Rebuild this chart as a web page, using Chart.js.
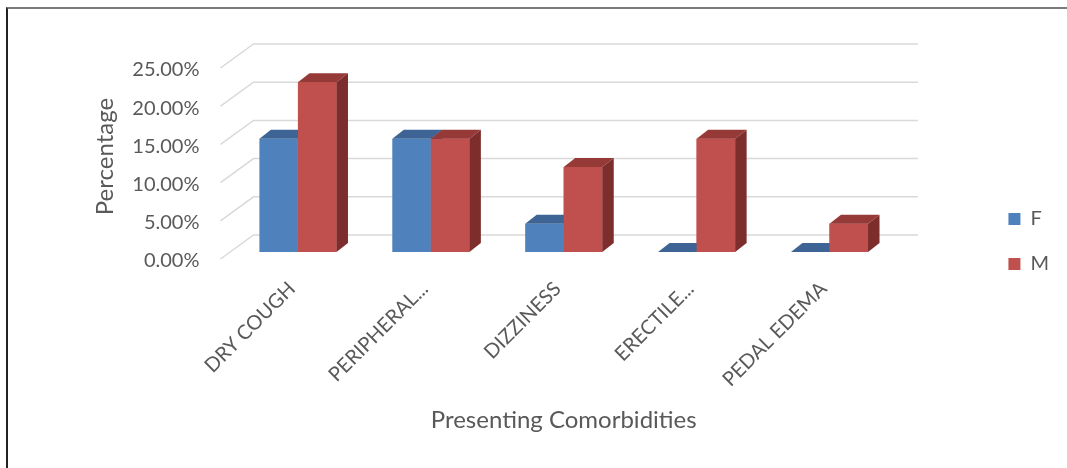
<!DOCTYPE html>
<html>
<head>
<meta charset="utf-8">
<script src="https://cdn.jsdelivr.net/npm/chart.js@4"></script>
<style>
  html, body { margin: 0; padding: 0; background: #fff; }
  #wrap { position: relative; width: 1067px; height: 468px; overflow: hidden; }
  #frame { position: absolute; left: 6px; top: 7px; right: 0; bottom: 0;
           border-top: 2px solid #7a7a7a; border-left: 2px solid #222; pointer-events: none; }
  canvas { position: absolute; left: 0; top: 0; }
</style>
</head>
<body>
<div id="wrap">
  <canvas id="comorbChart" width="1067" height="468"></canvas>
  <div id="frame"></div>
</div>
<script>
const categories = ['DRY COUGH', 'PERIPHERAL...', 'DIZZINESS', 'ERECTILE...', 'PEDAL EDEMA'];
const femaleValues = [14.81, 14.81, 3.70, 0, 0];
const maleValues = [22.22, 14.81, 11.11, 14.81, 3.70];
const yTicks = [0, 5, 10, 15, 20, 25];

const grey = '#595959';
// fake 3D: offsets from the bar plane
const FRONT = { dx: -11, dy: 7 };
const BACK = { dx: 22, dy: -17 };
const BAR = { dx: 11.5, dy: -9 };
const faces = [
  { top: '#3D6494', side: '#2F4E74' },
  { top: '#963A38', side: '#7D2E2C' }
];

const depthPlugin = {
  id: 'depth',
  beforeDatasetsDraw(chart) {
    const { ctx, chartArea, scales: { y } } = chart;
    ctx.save();
    ctx.strokeStyle = '#D9D9D9';
    ctx.lineWidth = 1.5;
    y.ticks.forEach(t => {
      const py = y.getPixelForValue(t.value);
      ctx.beginPath();
      ctx.moveTo(chartArea.left + FRONT.dx, py + FRONT.dy);
      ctx.lineTo(chartArea.left + BACK.dx, py + BACK.dy);
      ctx.lineTo(chartArea.right + BACK.dx, py + BACK.dy);
      ctx.stroke();
    });
    ctx.restore();
  },
  afterDatasetsDraw(chart) {
    const { ctx } = chart;
    const metas = chart.getSortedVisibleDatasetMetas().sort((a, b) => a.index - b.index);
    ctx.save();
    for (let i = 0; i < chart.data.labels.length; i++) {
      metas.forEach((meta, k) => {
        const bar = meta.data[i];
        const { x, y, base, width } = bar.getProps(['x', 'y', 'base', 'width'], true);
        const l = x - width / 2, r = x + width / 2;
        if (k > 0) bar.draw(ctx);
        ctx.fillStyle = faces[meta.index].top;
        ctx.beginPath();
        ctx.moveTo(l, y);
        ctx.lineTo(l + BAR.dx, y + BAR.dy);
        ctx.lineTo(r + BAR.dx, y + BAR.dy);
        ctx.lineTo(r, y);
        ctx.closePath();
        ctx.fill();
        ctx.fillStyle = faces[meta.index].side;
        ctx.beginPath();
        ctx.moveTo(r, y);
        ctx.lineTo(r + BAR.dx, y + BAR.dy);
        ctx.lineTo(r + BAR.dx, base + BAR.dy);
        ctx.lineTo(r, base);
        ctx.closePath();
        ctx.fill();
      });
    }
    ctx.restore();
  }
};

Chart.defaults.font.family = 'Lato';
Chart.defaults.color = grey;

new Chart(document.getElementById('comorbChart'), {
  type: 'bar',
  data: {
    labels: categories,
    datasets: [
      { label: 'F', data: femaleValues, backgroundColor: '#4F81BD' },
      { label: 'M', data: maleValues, backgroundColor: '#C0504D' }
    ]
  },
  options: {
    responsive: false,
    animation: false,
    layout: { padding: { top: 15, left: 91, right: 8, bottom: 0 } },
    datasets: { bar: { categoryPercentage: 0.58, barPercentage: 1 } },
    plugins: {
      legend: {
        position: 'right',
        labels: { boxWidth: 12, boxHeight: 12, padding: 25, font: { size: 20 }, color: grey }
      },
      tooltip: { enabled: false }
    },
    scales: {
      x: {
        grid: { display: false, drawTicks: false },
        border: { display: false },
        ticks: { minRotation: 45, maxRotation: 45, padding: 25, labelOffset: -6, font: { size: 20 }, color: grey },
        title: { display: true, text: 'Presenting Comorbidities', font: { size: 24 }, color: grey, padding: { top: 0, bottom: 33 } },
        afterFit(s) { s.height = 216; }
      },
      y: {
        min: 0,
        max: 25,
        afterBuildTicks(s) { s.ticks = yTicks.map(v => ({ value: v })); },
        grid: { display: false, drawTicks: false },
        border: { display: false },
        ticks: { padding: 32, labelOffset: 9, font: { size: 20 }, color: grey, callback: v => v.toFixed(2) + '%' },
        title: { display: true, text: 'Percentage', font: { size: 24 }, color: grey, padding: 0 },
        afterFit(s) { s.width = 140.5; }
      },
      topSpacer: {
        type: 'linear', position: 'top', display: true,
        grid: { display: false, drawTicks: false }, border: { display: false }, ticks: { display: false },
        afterFit(s) { s.height = 46; }
      },
      rightSpacer: {
        type: 'linear', position: 'right', display: true,
        grid: { display: false, drawTicks: false }, border: { display: false }, ticks: { display: false },
        afterFit(s) { s.width = 87.5; }
      }
    }
  },
  plugins: [depthPlugin]
});
</script>
</body>
</html>
